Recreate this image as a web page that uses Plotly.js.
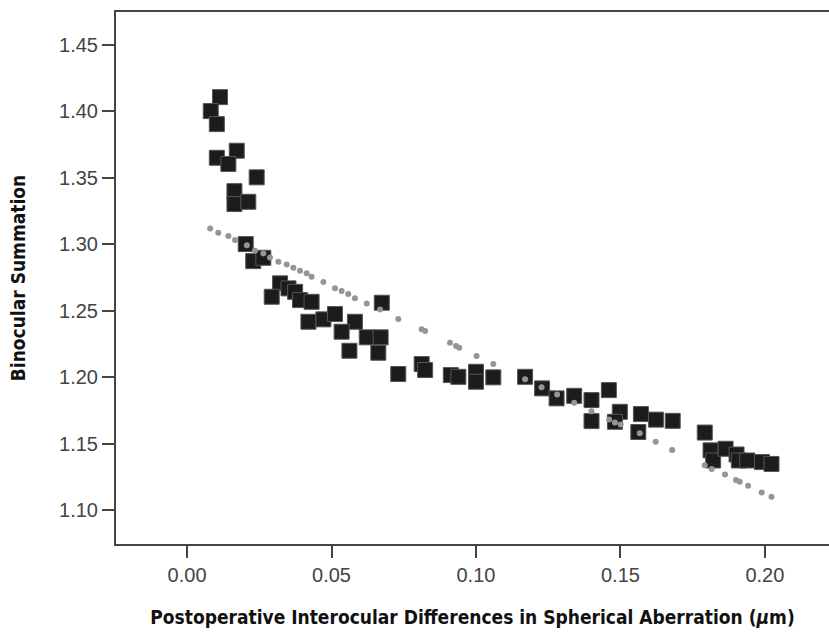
<!DOCTYPE html>
<html>
<head>
<meta charset="utf-8">
<script src="https://cdn.plot.ly/plotly-3.0.1.min.js"></script>
<style>
html,body{margin:0;padding:0;background:#fff;}
#chart{width:829px;height:634px;}
</style>
</head>
<body>
<div id="chart"></div>
<script>
// Observed data points (squares)
const obsX = [0.0114,0.0082,0.0103,0.0103,0.0172,0.0143,0.0241,0.0164,0.0164,0.0212,
  0.0203,0.0229,0.0264,0.0322,0.0293,0.0351,0.0374,0.0391,0.0431,0.0420,
  0.0472,0.0512,0.0581,0.0535,0.0622,0.0670,0.0562,0.0662,0.0674,0.0731,
  0.0812,0.0824,0.0913,0.0939,0.1000,0.1000,0.1060,0.1170,0.1229,0.1279,
  0.1340,0.1400,0.1460,0.1400,0.1498,0.1481,0.1571,0.1562,0.1623,0.1681,
  0.1792,0.1812,0.1821,0.1864,0.1902,0.1910,0.1939,0.1990,0.2023];
const obsY = [1.4105,1.4000,1.3902,1.3649,1.3702,1.3602,1.3502,1.3398,1.3301,1.3318,
  1.3000,1.2872,1.2897,1.2705,1.2604,1.2667,1.2641,1.2579,1.2566,1.2416,
  1.2434,1.2474,1.2416,1.2341,1.2299,1.2299,1.2198,1.2183,1.2559,1.2023,
  1.2098,1.2053,1.2015,1.2002,1.2040,1.1965,1.1998,1.2002,1.1915,1.1840,
  1.1859,1.1827,1.1902,1.1669,1.1739,1.1664,1.1722,1.1587,1.1680,1.1671,
  1.1583,1.1449,1.1373,1.1461,1.1418,1.1373,1.1373,1.1361,1.1347];

// Fitted values (grey dots)
const fitX = [0.0080,0.0108,0.0143,0.0166,0.0207,0.0235,0.0264,0.0287,0.0316,0.0345,
  0.0368,0.0391,0.0414,0.0431,0.0472,0.0512,0.0535,0.0558,0.0581,0.0622,
  0.0668,0.0731,0.0812,0.0824,0.0910,0.0931,0.0942,0.1002,0.1060,0.1170,
  0.1227,0.1281,0.1340,0.1400,0.1461,0.1481,0.1501,0.1567,0.1622,0.1679,
  0.1792,0.1816,0.1862,0.1900,0.1913,0.1942,0.1989,0.2023];
const fitY = [1.3118,1.3085,1.3060,1.3030,1.2992,1.2950,1.2930,1.2900,1.2867,1.2847,
  1.2822,1.2799,1.2780,1.2754,1.2714,1.2667,1.2647,1.2624,1.2592,1.2554,
  1.2509,1.2436,1.2359,1.2346,1.2258,1.2233,1.2220,1.2158,1.2098,1.1983,
  1.1923,1.1870,1.1807,1.1744,1.1682,1.1659,1.1644,1.1577,1.1514,1.1451,
  1.1338,1.1308,1.1268,1.1226,1.1213,1.1183,1.1133,1.1100];

const xTicks = [0.00,0.05,0.10,0.15,0.20];
const xTickText = ['0.00','0.05','0.10','0.15','0.20'];
const yTicks = [1.10,1.15,1.20,1.25,1.30,1.35,1.40,1.45];
const yTickText = ['1.10','1.15','1.20','1.25','1.30','1.35','1.40','1.45'];

const traces = [
  {
    x: obsX, y: obsY, type: 'scatter', mode: 'markers',
    marker: {symbol: 'square', size: 15, color: '#1c1c1c', line: {color: '#555', width: 1}},
    hoverinfo: 'x+y', showlegend: false
  },
  {
    x: fitX, y: fitY, type: 'scatter', mode: 'markers',
    marker: {symbol: 'circle', size: 6, color: '#959595'},
    hoverinfo: 'x+y', showlegend: false
  }
];

const titleFont = {family: '"Liberation Sans Narrow", "Arial Narrow", "DejaVu Sans Condensed", Arial, sans-serif', size: 19, color: '#111', weight: 'bold'};
const tickFont = {family: '"Liberation Sans", Arial, sans-serif', size: 20, color: '#444'};

const layout = {
  width: 829, height: 634,
  margin: {l: 116, r: 0, t: 12, b: 90},
  paper_bgcolor: '#fff', plot_bgcolor: '#fff',
  xaxis: {
    range: [-0.0246, 0.2222],
    tickvals: xTicks, ticktext: xTickText,
    showgrid: false, zeroline: false,
    showline: true, linecolor: '#444', linewidth: 2, mirror: true,
    ticks: 'outside', ticklen: 12, tickwidth: 2, tickcolor: '#444',
    tickfont: tickFont,
    title: {text: '<b>Postoperative Interocular Differences in Spherical Aberration (<i>μ</i>m)</b>', font: titleFont, standoff: 26},
    automargin: false
  },
  yaxis: {
    range: [1.0745, 1.4745],
    tickvals: yTicks, ticktext: yTickText,
    showgrid: false, zeroline: false,
    showline: true, linecolor: '#444', linewidth: 2, mirror: false,
    ticks: 'outside', ticklen: 12, tickwidth: 2, tickcolor: '#444',
    tickfont: tickFont,
    title: {text: '<b>Binocular Summation</b>', font: titleFont, standoff: 28},
    automargin: false
  }
};

Plotly.newPlot('chart', traces, layout, {displayModeBar: false, staticPlot: true});
</script>
</body>
</html>
